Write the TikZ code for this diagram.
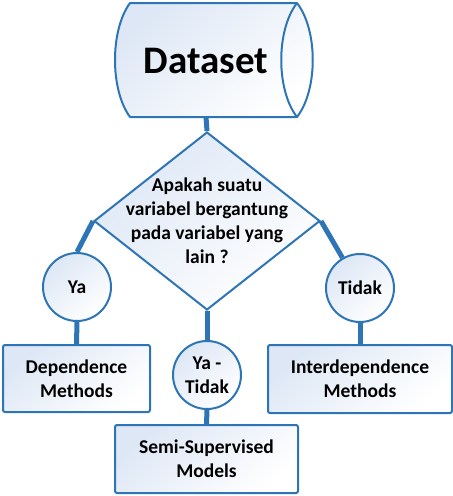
\documentclass[tikz,border=0pt]{standalone}
\usepackage{fontspec}
\setmainfont{Carlito}
\usetikzlibrary{shapes.geometric, backgrounds}
\definecolor{lineblue}{RGB}{46,117,182}
\definecolor{fillblue}{RGB}{221,231,245}
\tikzset{
	shapefill/.style={top color=fillblue, bottom color=white, shading angle=40},
	border/.style={draw=lineblue, line width=2pt, shapefill},
	circ/.style={border, circle, minimum size=68pt, inner sep=0pt, font=\fontsize{19.5}{24}\selectfont\bfseries, align=center},
	methodbox/.style={border, rectangle, rounded corners=2pt, inner sep=0pt, font=\fontsize{19.5}{24}\selectfont\bfseries, align=center},
	link/.style={draw=lineblue, line width=5pt}
}
\begin{document}
\begin{tikzpicture}[x=1pt, y=-1pt]
	\useasboundingbox (0,0) rectangle (453,496);
	\path[border, line join=round] (130,3) -- (297,3) .. controls (318,30) and (318,90) .. (297,117) -- (130,117) .. controls (110,90) and (110,30) .. (130,3) -- cycle;
	\draw[draw=lineblue, line width=2pt] (297,3) .. controls (276,30) and (276,90) .. (297,117);
	\node[font=\fontsize{39}{44}\selectfont\bfseries] (dataset) at (206,61) {Dataset};
	\coordinate (datasetbase) at (206,117);
	\node[border, diamond, minimum width=226pt, minimum height=178pt, inner sep=0pt] (question) at (207,221) {};
	\node[font=\fontsize{19.5}{24}\selectfont\bfseries, align=center] (qtext) at (207,221) {Apakah suatu\\variabel bergantung\\pada variabel yang\\lain ?};
	\node[circ] (ya) at (77,287) {Ya};
	\node[circ] (tidak) at (360,288) {Tidak};
	\node[circ] (yatidak) at (207,375) {Ya -\\Tidak};
	\node[methodbox, minimum width=147pt, minimum height=67pt] (dependence) at (76.5,378.5) {Dependence\\Methods};
	\node[methodbox, minimum width=184pt, minimum height=68pt] (interdependence) at (360,379) {Interdependence\\Methods};
	\node[methodbox, minimum width=183pt, minimum height=68pt] (semi) at (206.5,459) {Semi-Supervised\\Models};
	\begin{pgfonlayer}{background}
		\draw[link] (datasetbase) -- (question.north);
		\draw[link] (question.west) -- (ya.north);
		\draw[link] (question.east) -- (tidak);
		\draw[link] (question.south) -- (yatidak.north);
		\draw[link] (ya.south) -- (dependence.north);
		\draw[link] (tidak.south) -- (interdependence.north);
		\draw[link] (yatidak.south) -- (semi.north);
	\end{pgfonlayer}
\end{tikzpicture}
\end{document}
